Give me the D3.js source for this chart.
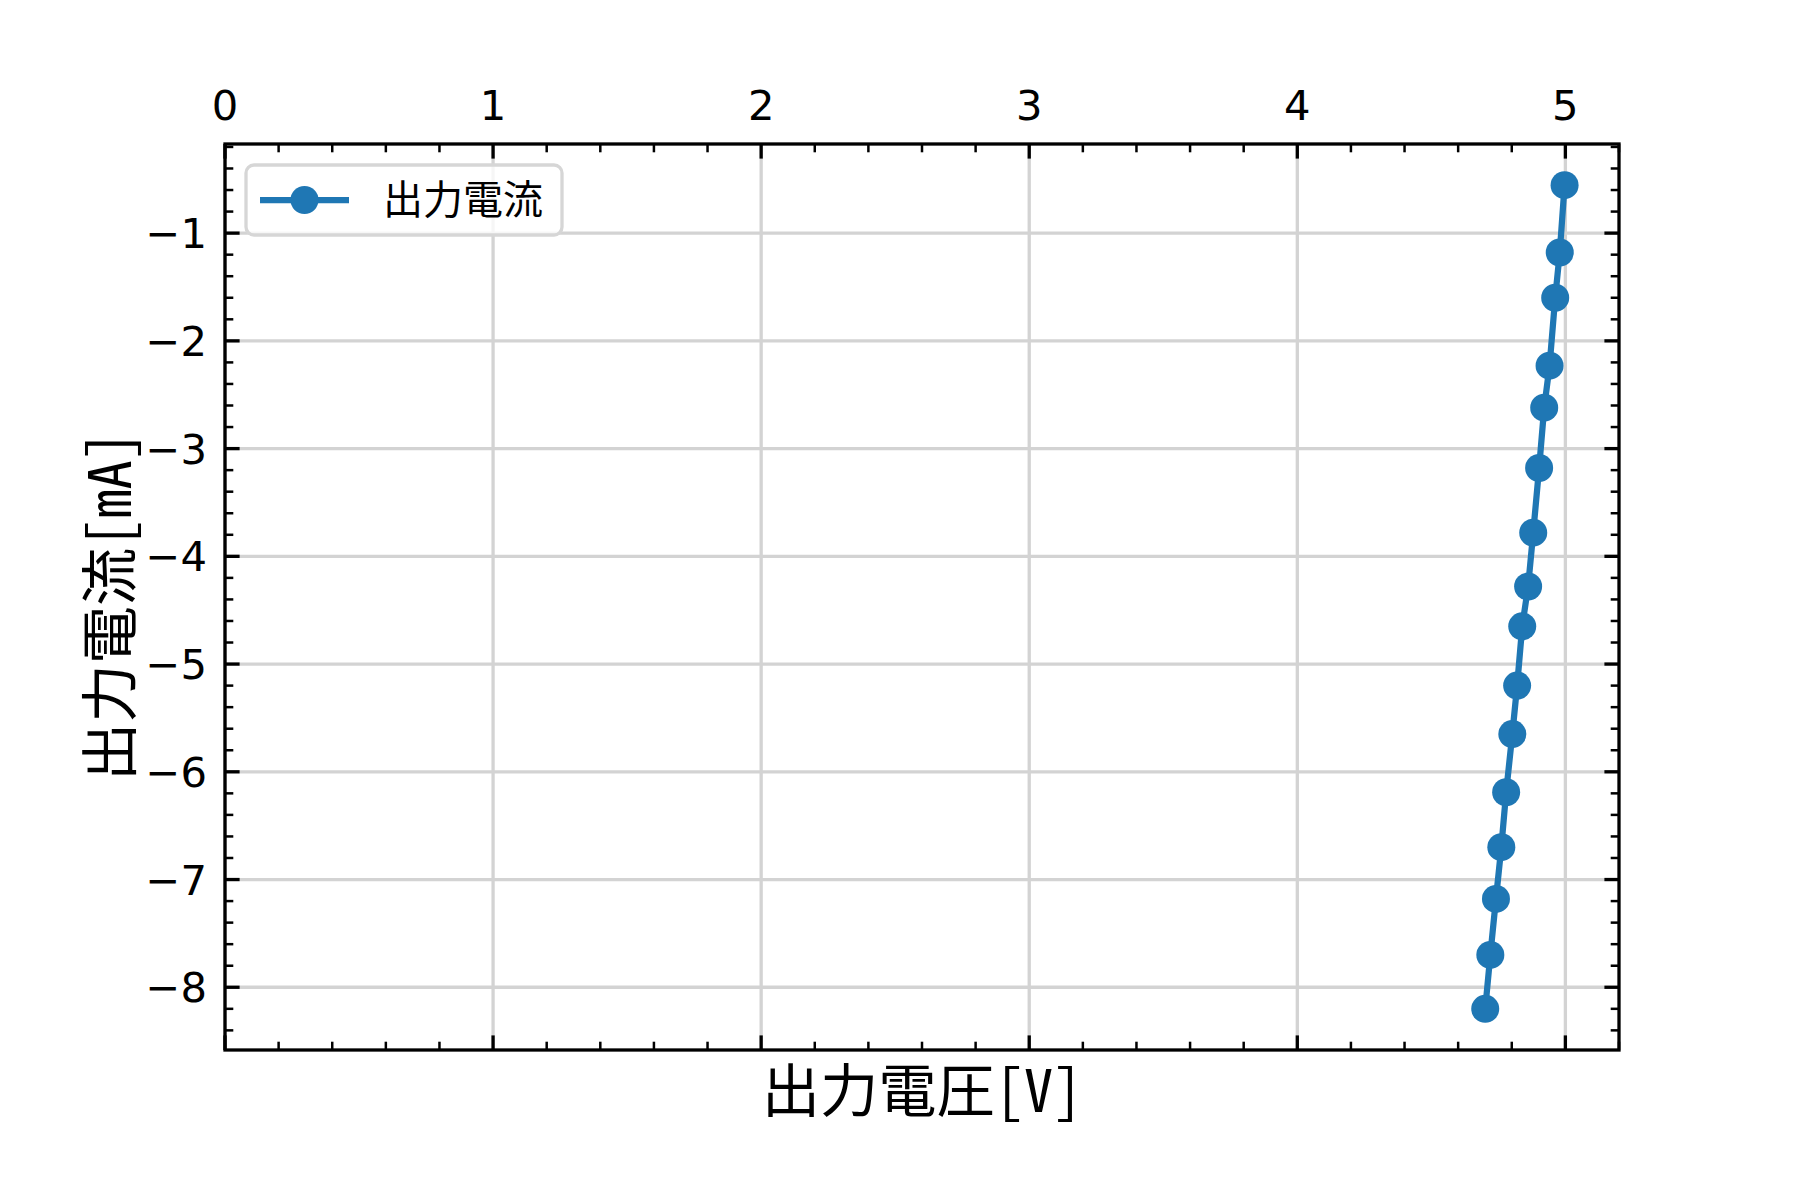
<!DOCTYPE html>
<html>
<head>
<meta charset="utf-8">
<script src="https://cdn.jsdelivr.net/npm/d3@7"></script>
<style>
  body { margin: 0; background: #fff; }
  .tick-label { font-family: "DejaVu Sans", sans-serif; font-size: 41.7px; fill: #000; }
  .jp { font-family: "Noto Sans CJK JP", sans-serif; fill: #000; font-feature-settings: "hwid"; }
</style>
</head>
<body>
<div id="graph"></div>
<script>
// 出力電圧 [V] と 出力電流 [mA]
var voltage = [4.997, 4.979, 4.962, 4.941, 4.921, 4.902, 4.880, 4.861,
               4.839, 4.820, 4.802, 4.779, 4.761, 4.741, 4.720, 4.701]
var current = [-0.555, -1.18, -1.60, -2.23, -2.62, -3.18, -3.78, -4.28,
               -4.65, -5.20, -5.65, -6.19, -6.70, -7.18, -7.70, -8.20]
var xTicks = [0, 1, 2, 3, 4, 5]
var yTicks = [-1, -2, -3, -4, -5, -6, -7, -8]
var seriesName = '出力電流'
var xLabel = '出力電圧[V]'
var yLabel = '出力電流[mA]'

var data = voltage.map(function(v, i){ return {v: v, i: current[i]} })

var W = 1800, H = 1200
var m = {left: 225, right: 1619, top: 144, bottom: 1050}
var blue = '#1f77b4'

var svg = d3.select('#graph').append('svg')
    .attr('width', W).attr('height', H)

var x = d3.scaleLinear().domain([0, 5.2]).range([m.left, m.right])

var ext = d3.extent(current)
var pad = (ext[1] - ext[0]) * 0.05
var y = d3.scaleLinear().domain([ext[0] - pad, ext[1] + pad]).range([m.bottom, m.top])

// grid
svg.append('g').selectAll('line').data(xTicks).enter().append('line')
    .attr('x1', x).attr('x2', x).attr('y1', m.top).attr('y2', m.bottom)
    .attr('stroke', '#d3d3d3').attr('stroke-width', 3.3)
svg.append('g').selectAll('line').data(yTicks).enter().append('line')
    .attr('y1', y).attr('y2', y).attr('x1', m.left).attr('x2', m.right)
    .attr('stroke', '#d3d3d3').attr('stroke-width', 3.3)

// ticks, all pointing inward on four sides
var xMinor = d3.range(0, 5.21, 0.2).filter(function(d){ return Math.abs(d - Math.round(d)) > 1e-6 })
var yMinor = d3.range(-8.4, -0.15, 0.2).filter(function(d){ return Math.abs(d - Math.round(d)) > 1e-6 })

var ticks = svg.append('g').attr('stroke', '#000')
function xTickMarks(vals, len, w){
  vals.forEach(function(d){
    ticks.append('line').attr('x1', x(d)).attr('x2', x(d))
        .attr('y1', m.top).attr('y2', m.top + len).attr('stroke-width', w)
    ticks.append('line').attr('x1', x(d)).attr('x2', x(d))
        .attr('y1', m.bottom).attr('y2', m.bottom - len).attr('stroke-width', w)
  })
}
function yTickMarks(vals, len, w){
  vals.forEach(function(d){
    ticks.append('line').attr('y1', y(d)).attr('y2', y(d))
        .attr('x1', m.left).attr('x2', m.left + len).attr('stroke-width', w)
    ticks.append('line').attr('y1', y(d)).attr('y2', y(d))
        .attr('x1', m.right).attr('x2', m.right - len).attr('stroke-width', w)
  })
}
xTickMarks(xTicks, 14.6, 3.3)
xTickMarks(xMinor, 8.3, 2.5)
yTickMarks(yTicks, 14.6, 3.3)
yTickMarks(yMinor, 8.3, 2.5)

// tick labels: x on top, y on left
svg.append('g').selectAll('text').data(xTicks).enter().append('text')
    .attr('class', 'tick-label')
    .attr('x', x).attr('y', 120)
    .attr('text-anchor', 'middle')
    .text(d3.format('d'))
svg.append('g').selectAll('text').data(yTicks).enter().append('text')
    .attr('class', 'tick-label')
    .attr('x', 207).attr('y', y).attr('dy', '0.36em')
    .attr('text-anchor', 'end')
    .text(d3.format('d'))

// series
var line = d3.line().x(function(d){ return x(d.v) }).y(function(d){ return y(d.i) })
svg.append('path').datum(data)
    .attr('d', line)
    .attr('fill', 'none').attr('stroke', blue).attr('stroke-width', 6.25)
svg.append('g').selectAll('circle').data(data).enter().append('circle')
    .attr('cx', function(d){ return x(d.v) })
    .attr('cy', function(d){ return y(d.i) })
    .attr('r', 14).attr('fill', blue)

// frame
svg.append('rect')
    .attr('x', m.left).attr('y', m.top)
    .attr('width', m.right - m.left).attr('height', m.bottom - m.top)
    .attr('fill', 'none').attr('stroke', '#000').attr('stroke-width', 3.3)

// legend
var lg = svg.append('g')
lg.append('rect')
    .attr('x', 246).attr('y', 165).attr('width', 316).attr('height', 70)
    .attr('rx', 8).attr('fill', '#fff').attr('fill-opacity', 0.8)
    .attr('stroke', '#d6d6d6').attr('stroke-width', 3.3)
lg.append('line')
    .attr('x1', 260).attr('x2', 349).attr('y1', 200).attr('y2', 200)
    .attr('stroke', blue).attr('stroke-width', 6.25)
lg.append('circle').attr('cx', 304.5).attr('cy', 200).attr('r', 14).attr('fill', blue)
lg.append('text').attr('class', 'jp')
    .attr('x', 383).attr('y', 214)
    .style('font-size', '40px')
    .text(seriesName)

// axis labels
svg.append('text').attr('class', 'jp')
    .attr('x', (m.left + m.right) / 2).attr('y', 1112)
    .attr('text-anchor', 'middle')
    .style('font-size', '58.3px')
    .text(xLabel)
svg.append('text').attr('class', 'jp')
    .attr('transform', 'translate(131,' + 606 + ') rotate(-90)')
    .attr('text-anchor', 'middle')
    .style('font-size', '58.3px')
    .text(yLabel)
</script>
</body>
</html>
